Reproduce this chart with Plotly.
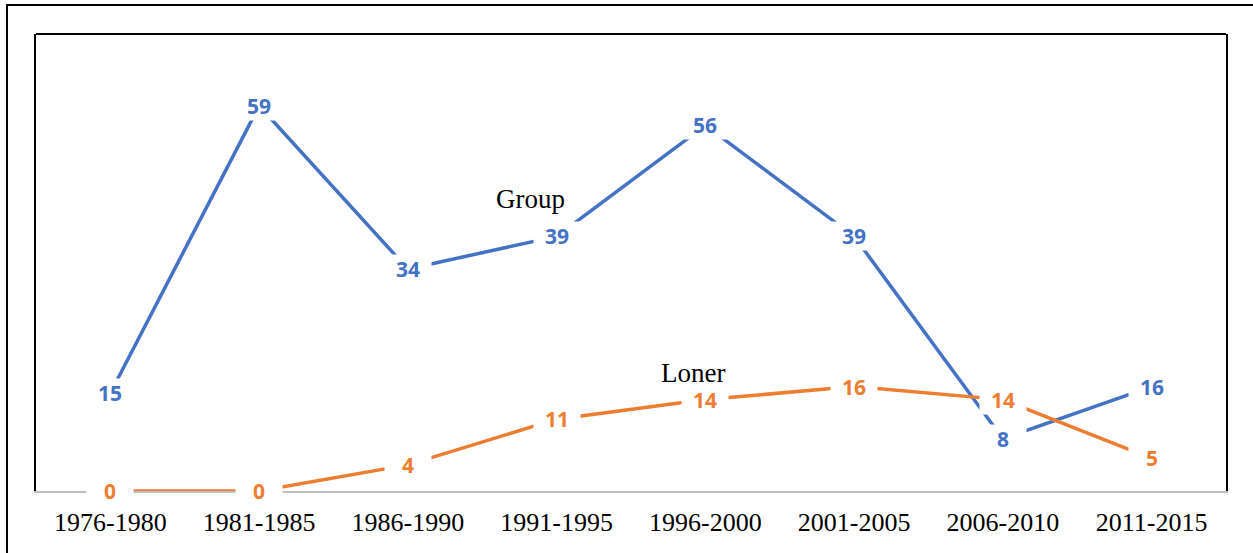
import plotly.graph_objects as go

categories = ["1976-1980", "1981-1985", "1986-1990", "1991-1995",
              "1996-2000", "2001-2005", "2006-2010", "2011-2015"]
group_values = [15, 59, 34, 39, 56, 39, 8, 16]
loner_values = [0, 0, 4, 11, 14, 16, 14, 5]
series_names = ["Group", "Loner"]

BLUE = "#4472C4"
ORANGE = "#ED7D31"

W, H = 1253, 553
ML, MR, MT, MB = 36, 27, 34, 62
PW, PH = W - ML - MR, H - MT - MB

fig = go.Figure()
for vals, color, name in [(group_values, BLUE, series_names[0]),
                          (loner_values, ORANGE, series_names[1])]:
    fig.add_trace(go.Scatter(x=categories, y=vals, mode="lines", name=name,
                             line=dict(color=color, width=3.5), showlegend=False,
                             cliponaxis=False))

annotations = []
for vals, color in [(group_values, BLUE), (loner_values, ORANGE)]:
    for c, v in zip(categories, vals):
        annotations.append(dict(
            x=c, y=v, xref="x", yref="y", text=str(v), showarrow=False,
            font=dict(family="Open Sans", size=21, color=color, weight="bold"),
            bgcolor="white", width=44, height=26, borderpad=1,
            xanchor="center", yanchor="middle"))

# series name labels
annotations.append(dict(x=(530 - ML) / PW, y=(H - MB - 199) / PH, xref="paper", yref="paper",
                        text=series_names[0], showarrow=False,
                        font=dict(family="Liberation Serif", size=27, color="black"),
                        xanchor="center", yanchor="middle"))
annotations.append(dict(x=(693 - ML) / PW, y=(H - MB - 373) / PH, xref="paper", yref="paper",
                        text=series_names[1], showarrow=False,
                        font=dict(family="Liberation Serif", size=27, color="black"),
                        xanchor="center", yanchor="middle"))

shapes = [
    # top border of plot area
    dict(type="line", xref="paper", yref="paper", x0=0, x1=1, y0=1, y1=1,
         line=dict(color="black", width=2)),
    # outer border
    dict(type="rect", xref="paper", yref="paper",
         x0=(7 - ML) / PW, x1=(W + 10 - ML) / PW,
         y0=-(MB + 10) / PH, y1=1 + (MT - 5) / PH,
         line=dict(color="black", width=2), layer="below"),
]

fig.update_layout(
    width=W, height=H,
    margin=dict(l=ML, r=MR, t=MT, b=MB),
    paper_bgcolor="white", plot_bgcolor="white",
    annotations=annotations, shapes=shapes,
    xaxis=dict(type="category", range=[-0.5, 7.5], showgrid=False,
               showline=True, linecolor="#BFBFBF", linewidth=2,
               ticks="", ticklabelstandoff=7,
               tickfont=dict(family="Liberation Serif", size=26, color="black"),
               zeroline=False),
    yaxis=dict(range=[0, 70], showgrid=False, zeroline=False, showticklabels=False,
               showline=True, linecolor="black", linewidth=2, mirror=True, ticks=""),
)

fig.write_html("out.html", config={"displayModeBar": False},
               post_script="document.body.style.margin='0';document.body.style.overflow='hidden';")
